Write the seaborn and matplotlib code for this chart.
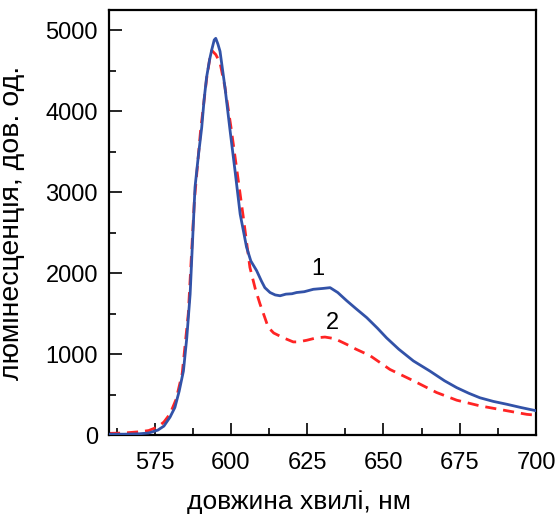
import matplotlib
matplotlib.use("Agg")
import matplotlib.pyplot as plt
import seaborn as sns
import pandas as pd
from matplotlib.ticker import MultipleLocator

# Curve 1 (blue, solid)
wl1 = [560, 565, 570, 573, 576, 578, 580, 581.6, 583, 584.4, 585.5, 586.6, 587.4, 588.2,
       589.3, 590.4, 591.2, 592.0, 593.0, 593.7, 594.5, 595.0, 595.7, 596.4, 597.2, 598.0,
       599.7, 601.3, 603.0, 605.1, 606.5, 608.4, 610, 611.1, 612.8, 614.5, 616.1, 618, 620,
       621.5, 624, 627, 630, 632.5, 635, 637.9, 641, 644.5, 648, 651, 655, 659.8, 665.2,
       670, 674, 678, 681.6, 686, 690.4, 695, 700]
lum1 = [10, 10, 15, 25, 60, 110, 220, 340, 540, 790, 1200, 1740, 2400, 3060,
        3450, 3800, 4150, 4420, 4640, 4760, 4880, 4900, 4830, 4740, 4520, 4300,
        3760, 3270, 2730, 2320, 2150, 2030, 1900, 1820, 1760, 1730, 1720, 1740, 1745,
        1760, 1770, 1800, 1810, 1820, 1760, 1660, 1560, 1450, 1320, 1200, 1060, 915, 790,
        670, 585, 515, 460, 415, 380, 340, 300]

# Curve 2 (red, dashed)
wl2 = [560, 565, 570, 573, 576, 578, 580, 582, 584, 586, 588, 590, 592, 593, 593.7, 595,
       596.4, 598, 600, 602, 604, 606.2, 608, 609.5, 611, 612.2, 614, 617.2, 620.4, 622,
       624.8, 628, 630.8, 634, 637.9, 641, 645.6, 652.1, 659.8, 667.4, 674, 681.6, 690.4,
       697, 700]
lum2 = [20, 25, 40, 55, 100, 160, 260, 440, 760, 1500, 2900, 3750, 4400, 4640, 4750, 4700,
        4600, 4300, 3800, 3250, 2700, 2070, 1800, 1620, 1460, 1330, 1260, 1200, 1150, 1150,
        1170, 1200, 1210, 1190, 1120, 1060, 980, 810, 670, 525, 430, 360, 300,
        255, 245]

x_ticks = [575, 600, 625, 650, 675, 700]
y_ticks = [0, 1000, 2000, 3000, 4000, 5000]
curve_labels = ["1", "2"]

sns.set_style("ticks")
plt.rcParams["font.family"] = ["Liberation Sans", "DejaVu Sans"]
plt.rcParams["text.color"] = "black"
plt.rcParams["axes.labelcolor"] = "black"
plt.rcParams["xtick.color"] = "black"
plt.rcParams["ytick.color"] = "black"

fig = plt.figure(figsize=(5.6, 5.23), dpi=100)
ax = fig.add_axes([109/560, (523-435)/523, 427/560, 425/523])

df1 = pd.DataFrame({"wl": wl1, "lum": lum1})
df2 = pd.DataFrame({"wl": wl2, "lum": lum2})
sns.lineplot(data=df2, x="wl", y="lum", ax=ax, color="#FF2424", lw=2.0,
             linestyle=(0, (4, 2.5)), sort=False, zorder=2)
sns.lineplot(data=df1, x="wl", y="lum", ax=ax, color="#3252A8", lw=2.0,
             sort=False, zorder=3)

ax.set_xlim(560, 700)
ax.set_ylim(0, 5250)
ax.set_xticks(x_ticks)
ax.set_yticks(y_ticks)
ax.xaxis.set_minor_locator(MultipleLocator(12.5))
ax.yaxis.set_minor_locator(MultipleLocator(500))
ax.tick_params(which="major", direction="in", length=9, width=1.2, labelsize=17,
               top=False, right=False, colors="black")
ax.tick_params(which="minor", direction="in", length=5, width=1.2, top=False, right=False,
               colors="black")
ax.tick_params(axis="x", which="major", pad=12)
ax.tick_params(axis="y", which="major", pad=8)
for s in ax.spines.values():
    s.set_visible(True)
    s.set_linewidth(1.6)
    s.set_color("black")

ax.set_xlabel("довжина хвилі, нм", fontsize=19)
ax.set_ylabel("люмінесценція, дов. од.", fontsize=20.5)
ax.xaxis.set_label_coords(0.445, -0.13)
ax.yaxis.set_label_coords(-0.197, 0.5)

ax.text(628.5, 2054, curve_labels[0], fontsize=17, ha="center", va="center")
ax.text(633.4, 1386, curve_labels[1], fontsize=17, ha="center", va="center")

fig.savefig("out.png", dpi=100)
